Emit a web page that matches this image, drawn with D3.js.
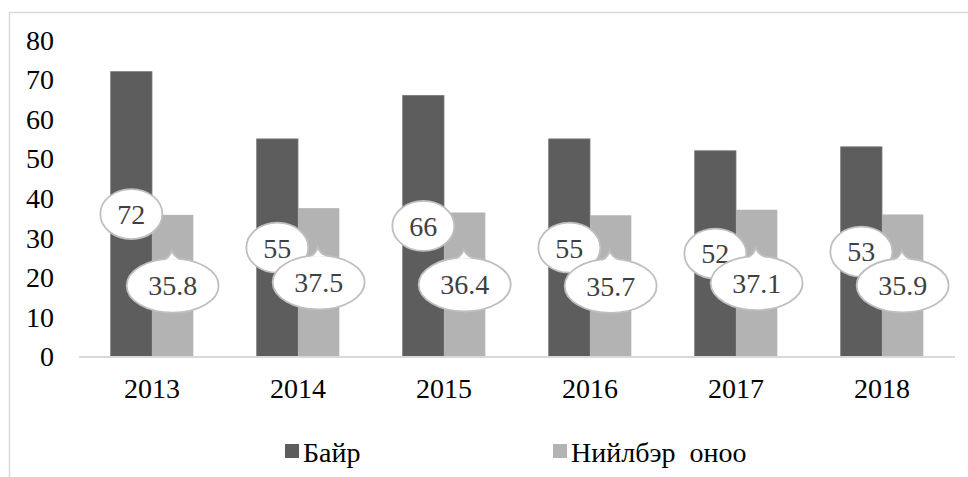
<!DOCTYPE html>
<html>
<head>
<meta charset="utf-8">
<script src="https://cdn.jsdelivr.net/npm/d3@7"></script>
<style>
  body { margin: 0; background: #fff; }
  svg text { font-family: "Liberation Serif", "Times New Roman", serif; white-space: pre; }
</style>
</head>
<body>
<div id="chart"></div>
<script>
// chart data
var years = ["2013", "2014", "2015", "2016", "2017", "2018"];
var rankValues = [72, 55, 66, 55, 52, 53];          // Байр
var scoreValues = [35.8, 37.5, 36.4, 35.7, 37.1, 35.9]; // Нийлбэр оноо
var seriesNames = ["Байр", "Нийлбэр  оноо"];
var yTicks = [0, 10, 20, 30, 40, 50, 60, 70, 80];

var width = 968, height = 477;
var colors = ["#5d5d5d", "#b3b3b3"];
var serif = "'Liberation Serif', 'Times New Roman', serif";

var svg = d3.select("#chart").append("svg")
    .attr("width", width)
    .attr("height", height);

// outer chart frame (runs off the right and bottom edges)
svg.append("rect")
    .attr("x", 9.5).attr("y", 12.5)
    .attr("width", 1000).attr("height", 500)
    .attr("fill", "none")
    .attr("stroke", "#d9d9d9")
    .attr("stroke-width", 1.5);

var x = d3.scaleBand()
    .domain(years)
    .range([79, 955])
    .paddingInner(0.434)
    .paddingOuter(0.217);

var xInner = d3.scaleBand()
    .domain([0, 1])
    .range([0, x.bandwidth()]);

var y = d3.scaleLinear()
    .domain([0, 80])
    .range([356.5, 40]);

// y tick labels (no axis line)
svg.selectAll("text.ytick")
    .data(yTicks)
    .enter()
    .append("text")
    .attr("class", "ytick")
    .attr("x", 54)
    .attr("y", d => y(d))
    .attr("dy", "0.35em")
    .attr("text-anchor", "end")
    .attr("font-family", serif)
    .attr("font-size", 28)
    .attr("fill", "#000")
    .text(d => d);

var rows = years.map(function (yr, i) {
    return { year: yr, values: [rankValues[i], scoreValues[i]] };
});

var groups = svg.selectAll("g.year")
    .data(rows)
    .enter()
    .append("g")
    .attr("class", "year")
    .attr("transform", d => "translate(" + x(d.year) + ",0)");

groups.selectAll("rect")
    .data(d => d.values.map((v, k) => ({ v: v, k: k })))
    .enter()
    .append("rect")
    .attr("x", d => xInner(d.k))
    .attr("y", d => y(d.v))
    .attr("width", xInner.bandwidth())
    .attr("height", d => y(0) - y(d.v))
    .attr("fill", d => colors[d.k])
    .attr("stroke", d => d.k == 0 ? "#7a7a7a" : "none")
    .attr("stroke-width", 0.8);

// baseline
svg.append("line")
    .attr("x1", 79).attr("x2", 955)
    .attr("y1", y(0) + 0.5).attr("y2", y(0) + 0.5)
    .attr("stroke", "#d9d9d9")
    .attr("stroke-width", 2);

// x labels
svg.selectAll("text.xtick")
    .data(years)
    .enter()
    .append("text")
    .attr("class", "xtick")
    .attr("x", d => x(d) + x.bandwidth() / 2)
    .attr("y", 398)
    .attr("text-anchor", "middle")
    .attr("font-family", serif)
    .attr("font-size", 28)
    .attr("fill", "#000")
    .text(d => d);

// callout labels centred on each bar
function drawCallout(g, cx, cy, rx, ry, tail, label) {
    var c = g.append("g");
    c.append("ellipse")
        .attr("cx", cx).attr("cy", cy)
        .attr("rx", rx).attr("ry", ry)
        .attr("fill", "#fff")
        .attr("stroke", "#bfbfbf")
        .attr("stroke-width", 1.8);
    if (tail) {
        // little spike on top of the bubble
        var tp = d3.path();
        tp.moveTo(cx - 9, cy - ry + 1.2);
        tp.quadraticCurveTo(cx - 3, cy - ry - 1, cx - 1, cy - ry - 8);
        tp.quadraticCurveTo(cx + 2, cy - ry - 1, cx + 9, cy - ry + 0.8);
        c.append("path")
            .attr("d", tp.toString())
            .attr("fill", "#fff")
            .attr("stroke", "#bfbfbf")
            .attr("stroke-width", 1.8);
        c.append("rect")
            .attr("x", cx - 8).attr("y", cy - ry + 1.2)
            .attr("width", 16).attr("height", 4)
            .attr("fill", "#fff");
    }
    c.append("text")
        .attr("x", cx)
        .attr("y", cy)
        .attr("dy", "0.35em")
        .attr("text-anchor", "middle")
        .attr("font-family", serif)
        .attr("font-size", 28)
        .attr("fill", "#404040")
        .text(label);
}

var labels = svg.append("g");
rows.forEach(function (d) {
    var cx = x(d.year) + xInner(0) + xInner.bandwidth() / 2;
    drawCallout(labels, cx, y(d.values[0] / 2), 31, 25, false, d.values[0]);
});
rows.forEach(function (d) {
    var cx = x(d.year) + xInner(1) + xInner.bandwidth() / 2;
    drawCallout(labels, cx, y(d.values[1] / 2), 46, 27, true, d.values[1].toFixed(1));
});

// legend
var legend = svg.append("g");
var legendX = [285, 553];
seriesNames.forEach(function (name, i) {
    legend.append("rect")
        .attr("x", legendX[i]).attr("y", 444)
        .attr("width", 14).attr("height", 14)
        .attr("fill", colors[i]);
    legend.append("text")
        .attr("x", legendX[i] + 18)
        .attr("y", 462)
        .attr("font-family", serif)
        .attr("font-size", 28)
        .attr("fill", "#000")
        .text(name);
});
</script>
</body>
</html>
